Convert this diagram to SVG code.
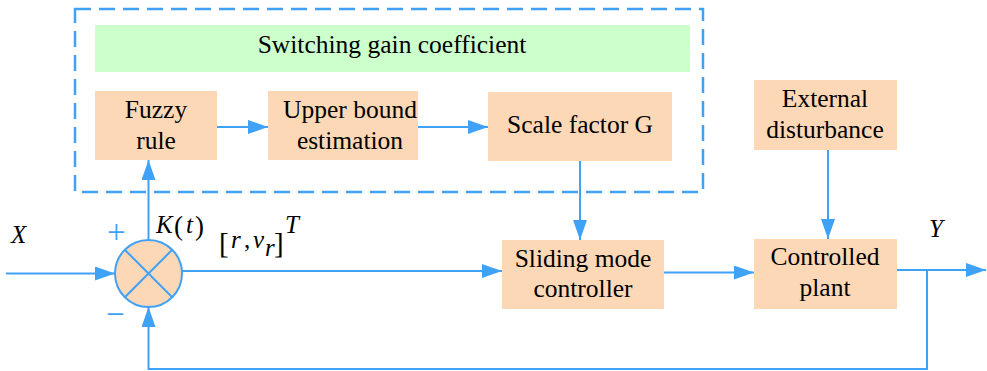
<svg xmlns="http://www.w3.org/2000/svg" width="987" height="371" viewBox="0 0 987 371">
<defs>
<style>
.box{fill:#FCD8B6;}
.t{font-family:'Liberation Serif','Times New Roman',serif;font-size:25.5px;fill:#000;text-anchor:middle;}
.m{font-family:'Liberation Serif','Times New Roman',serif;font-size:25px;fill:#000;font-style:italic;}
.r{font-family:'Liberation Serif','Times New Roman',serif;fill:#000;}
.sg{font-family:'Liberation Serif','Times New Roman',serif;font-size:33px;fill:#3FA2F7;}
.ln{stroke:#3FA2F7;stroke-width:2;fill:none;}
</style>
<marker id="ah" viewBox="0 0 20 14" refX="20" refY="7" markerWidth="20" markerHeight="14" markerUnits="userSpaceOnUse" orient="auto">
<path d="M0,0 L20,7 L0,14 z" fill="#3FA2F7"/>
</marker>
</defs>
<rect width="987" height="371" fill="#fff"/>
<g id="group-box">
<rect x="75" y="9" width="628" height="183" fill="none" stroke="#3FA2F7" stroke-width="2.5" stroke-dasharray="16,8"/>
</g>
<g id="switching">
<rect x="95" y="25" width="595" height="47" fill="#CCFFCC"/>
<text class="t" x="392" y="53">Switching gain coefficient</text>
</g>
<g id="fuzzy">
<rect class="box" x="95" y="91" width="122" height="69"/>
<text class="t" x="156" y="118">Fuzzy</text>
<text class="t" x="156" y="149">rule</text>
</g>
<g id="upper">
<rect class="box" x="268" y="91" width="150" height="69"/>
<text class="t" x="350" y="118">Upper bound</text>
<text class="t" x="350" y="149">estimation</text>
</g>
<g id="scale">
<rect class="box" x="488" y="92" width="184" height="69"/>
<text class="t" x="580" y="133">Scale factor G</text>
</g>
<g id="external">
<rect class="box" x="754" y="80" width="143" height="70"/>
<text class="t" x="825" y="107">External</text>
<text class="t" x="825" y="138">disturbance</text>
</g>
<g id="smc">
<rect class="box" x="502" y="240" width="162" height="69"/>
<text class="t" x="583" y="267">Sliding mode</text>
<text class="t" x="583" y="297">controller</text>
</g>
<g id="plant">
<rect class="box" x="754" y="239" width="143" height="70"/>
<text class="t" x="825" y="265">Controlled</text>
<text class="t" x="825" y="296">plant</text>
</g>
<g id="sum">
<circle cx="148.5" cy="273.5" r="33.5" fill="#FCD8B6" stroke="#3FA2F7" stroke-width="2"/>
<line class="ln" x1="124.8" y1="249.8" x2="172.2" y2="297.2"/>
<line class="ln" x1="172.2" y1="249.8" x2="124.8" y2="297.2"/>
</g>
<g id="connectors">
<line class="ln" x1="6" y1="273.5" x2="115" y2="273.5" marker-end="url(#ah)"/>
<line class="ln" x1="148.5" y1="240" x2="148.5" y2="160" marker-end="url(#ah)"/>
<line class="ln" x1="217" y1="127" x2="268" y2="127" marker-end="url(#ah)"/>
<line class="ln" x1="418" y1="127" x2="488" y2="127" marker-end="url(#ah)"/>
<line class="ln" x1="580" y1="161" x2="580" y2="240" marker-end="url(#ah)"/>
<line class="ln" x1="828" y1="150" x2="828" y2="239" marker-end="url(#ah)"/>
<line class="ln" x1="182" y1="271" x2="502" y2="271" marker-end="url(#ah)"/>
<line class="ln" x1="664" y1="272.5" x2="754" y2="272.5" marker-end="url(#ah)"/>
<line class="ln" x1="897" y1="270" x2="986" y2="270" marker-end="url(#ah)"/>
<polyline class="ln" points="927,270 927,369 148.5,369 148.5,307" marker-end="url(#ah)"/>
</g>
<g id="labels">
<text class="m" x="11" y="243" font-size="23">X</text>
<text class="m" x="929" y="237" font-size="23">Y</text>
<text class="sg" x="107" y="243">+</text>
<text class="sg" x="106" y="325">−</text>
<text class="m" x="156" y="233">K</text>
<text class="r" x="174" y="235" font-size="27">(</text>
<text class="m" x="186" y="233">t</text>
<text class="r" x="195" y="235" font-size="27">)</text>
<text class="r" x="219" y="253" font-size="29">[</text>
<text class="m" x="231" y="248">r</text>
<text class="r" x="244" y="248" font-size="25">,</text>
<text class="m" x="253" y="248">v</text>
<text class="m" x="265" y="256" font-size="14">r</text>
<text class="r" x="274" y="253" font-size="29">]</text>
<text class="m" x="285" y="233" font-size="14">T</text>
</g>
</svg>
